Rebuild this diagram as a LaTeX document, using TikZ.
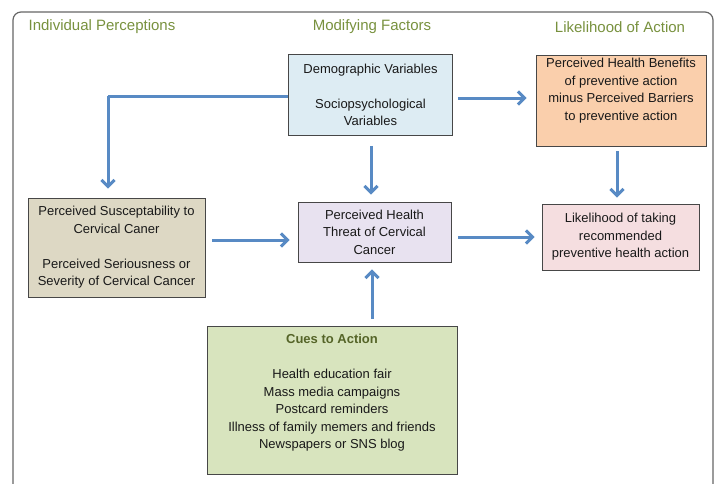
\documentclass[tikz,border=0pt]{standalone}
\usepackage{fontspec}
\setmainfont{Liberation Sans}
\usetikzlibrary{arrows.meta}
\definecolor{hdr}{RGB}{120,145,62}
\definecolor{cuet}{RGB}{85,100,40}
\definecolor{arr}{RGB}{88,138,196}
\definecolor{txt}{RGB}{25,25,25}
\definecolor{fdemo}{RGB}{221,236,243}
\definecolor{fben}{RGB}{250,207,172}
\definecolor{fsus}{RGB}{221,216,196}
\definecolor{fthr}{RGB}{232,226,240}
\definecolor{flik}{RGB}{245,222,224}
\definecolor{fcue}{RGB}{216,228,190}
\tikzset{
  hdrtext/.style={text=hdr, font=\fontsize{15}{18}\selectfont},
  box/.style={draw=black!72, line width=0.9pt, align=center, text=txt,
    font=\fontsize{13}{17.5}\selectfont, inner sep=0pt},
  flow/.style={draw=arr, line width=3pt, -{Straight Barb[length=6.5pt,width=13pt]}},
}
\begin{document}
\begin{tikzpicture}[x=1pt,y=-1pt]
\useasboundingbox (0,0) rectangle (715,483);
\draw[black!60, line width=1.2pt, rounded corners=8pt] (13,495) -- (13,12) -- (713,12) -- (713,495);
\node[hdrtext] (h1) at (102,27) {Individual Perceptions};
\node[hdrtext] (h2) at (372,27) {Modifying Factors};
\node[hdrtext] (h3) at (620,27) {Likelihood of Action};

\node[box, fill=fdemo, minimum width=164pt, minimum height=81pt] (demo) at (370.5,95)
  {Demographic Variables\\[17.5pt]Sociopsychological\\Variables};
\node[box, fill=fben, minimum width=170pt, minimum height=91pt] (ben) at (621,100.5)
  {Perceived Health Benefits\\of preventive action\\minus Perceived Barriers\\to preventive action\\[5pt]};
\node[box, fill=fsus, minimum width=177pt, minimum height=99pt] (sus) at (116.5,247.5)
  {Perceived Susceptability to\\Cervical Caner\\[17.5pt]Perceived Seriousness or\\Severity of Cervical Cancer};
\node[box, fill=fthr, minimum width=153pt, minimum height=60pt] (thr) at (374.5,232)
  {Perceived Health\\Threat of Cervical\\Cancer};
\node[box, fill=flik, minimum width=157pt, minimum height=66pt] (lik) at (620.5,237)
  {Likelihood of taking\\recommended\\preventive health action};
\node[box, fill=fcue, minimum width=250pt, minimum height=148pt] (cuebox) at (332,400) {};
\node[align=center, text=txt, font=\fontsize{13}{17.5}\selectfont, anchor=north] (cues) at (332,331)
  {\textcolor{cuet}{\textbf{Cues to Action}}\\[17.5pt]Health education fair\\Mass media campaigns\\Postcard reminders\\Illness of family memers and friends\\Newspapers or SNS blog};

\coordinate (bend) at (108,96);
\draw[flow, -] (demo.west |- bend) -- (bend);
\draw[flow] (bend) -- (bend |- sus.north) [shorten >=9pt];
\draw[flow, shorten <=5pt, shorten >=9pt] (demo.east |- 0,98) -- (ben.west |- 0,98);
\draw[flow, shorten <=10pt, shorten >=7pt] (demo.south -| 371,0) -- (thr.north -| 371,0);
\draw[flow, shorten <=5pt, shorten >=6pt] (ben.south -| 617,0) -- (lik.north -| 617,0);
\draw[flow, shorten <=7pt, shorten >=8pt] (sus.east |- 0,240) -- (thr.west |- 0,240);
\draw[flow, shorten <=7pt, shorten >=7pt] (thr.east |- 0,237) -- (lik.west |- 0,237);
\draw[flow, shorten <=7pt, shorten >=7pt] (cuebox.north -| 372,0) -- (thr.south -| 372,0);
\end{tikzpicture}
\end{document}
